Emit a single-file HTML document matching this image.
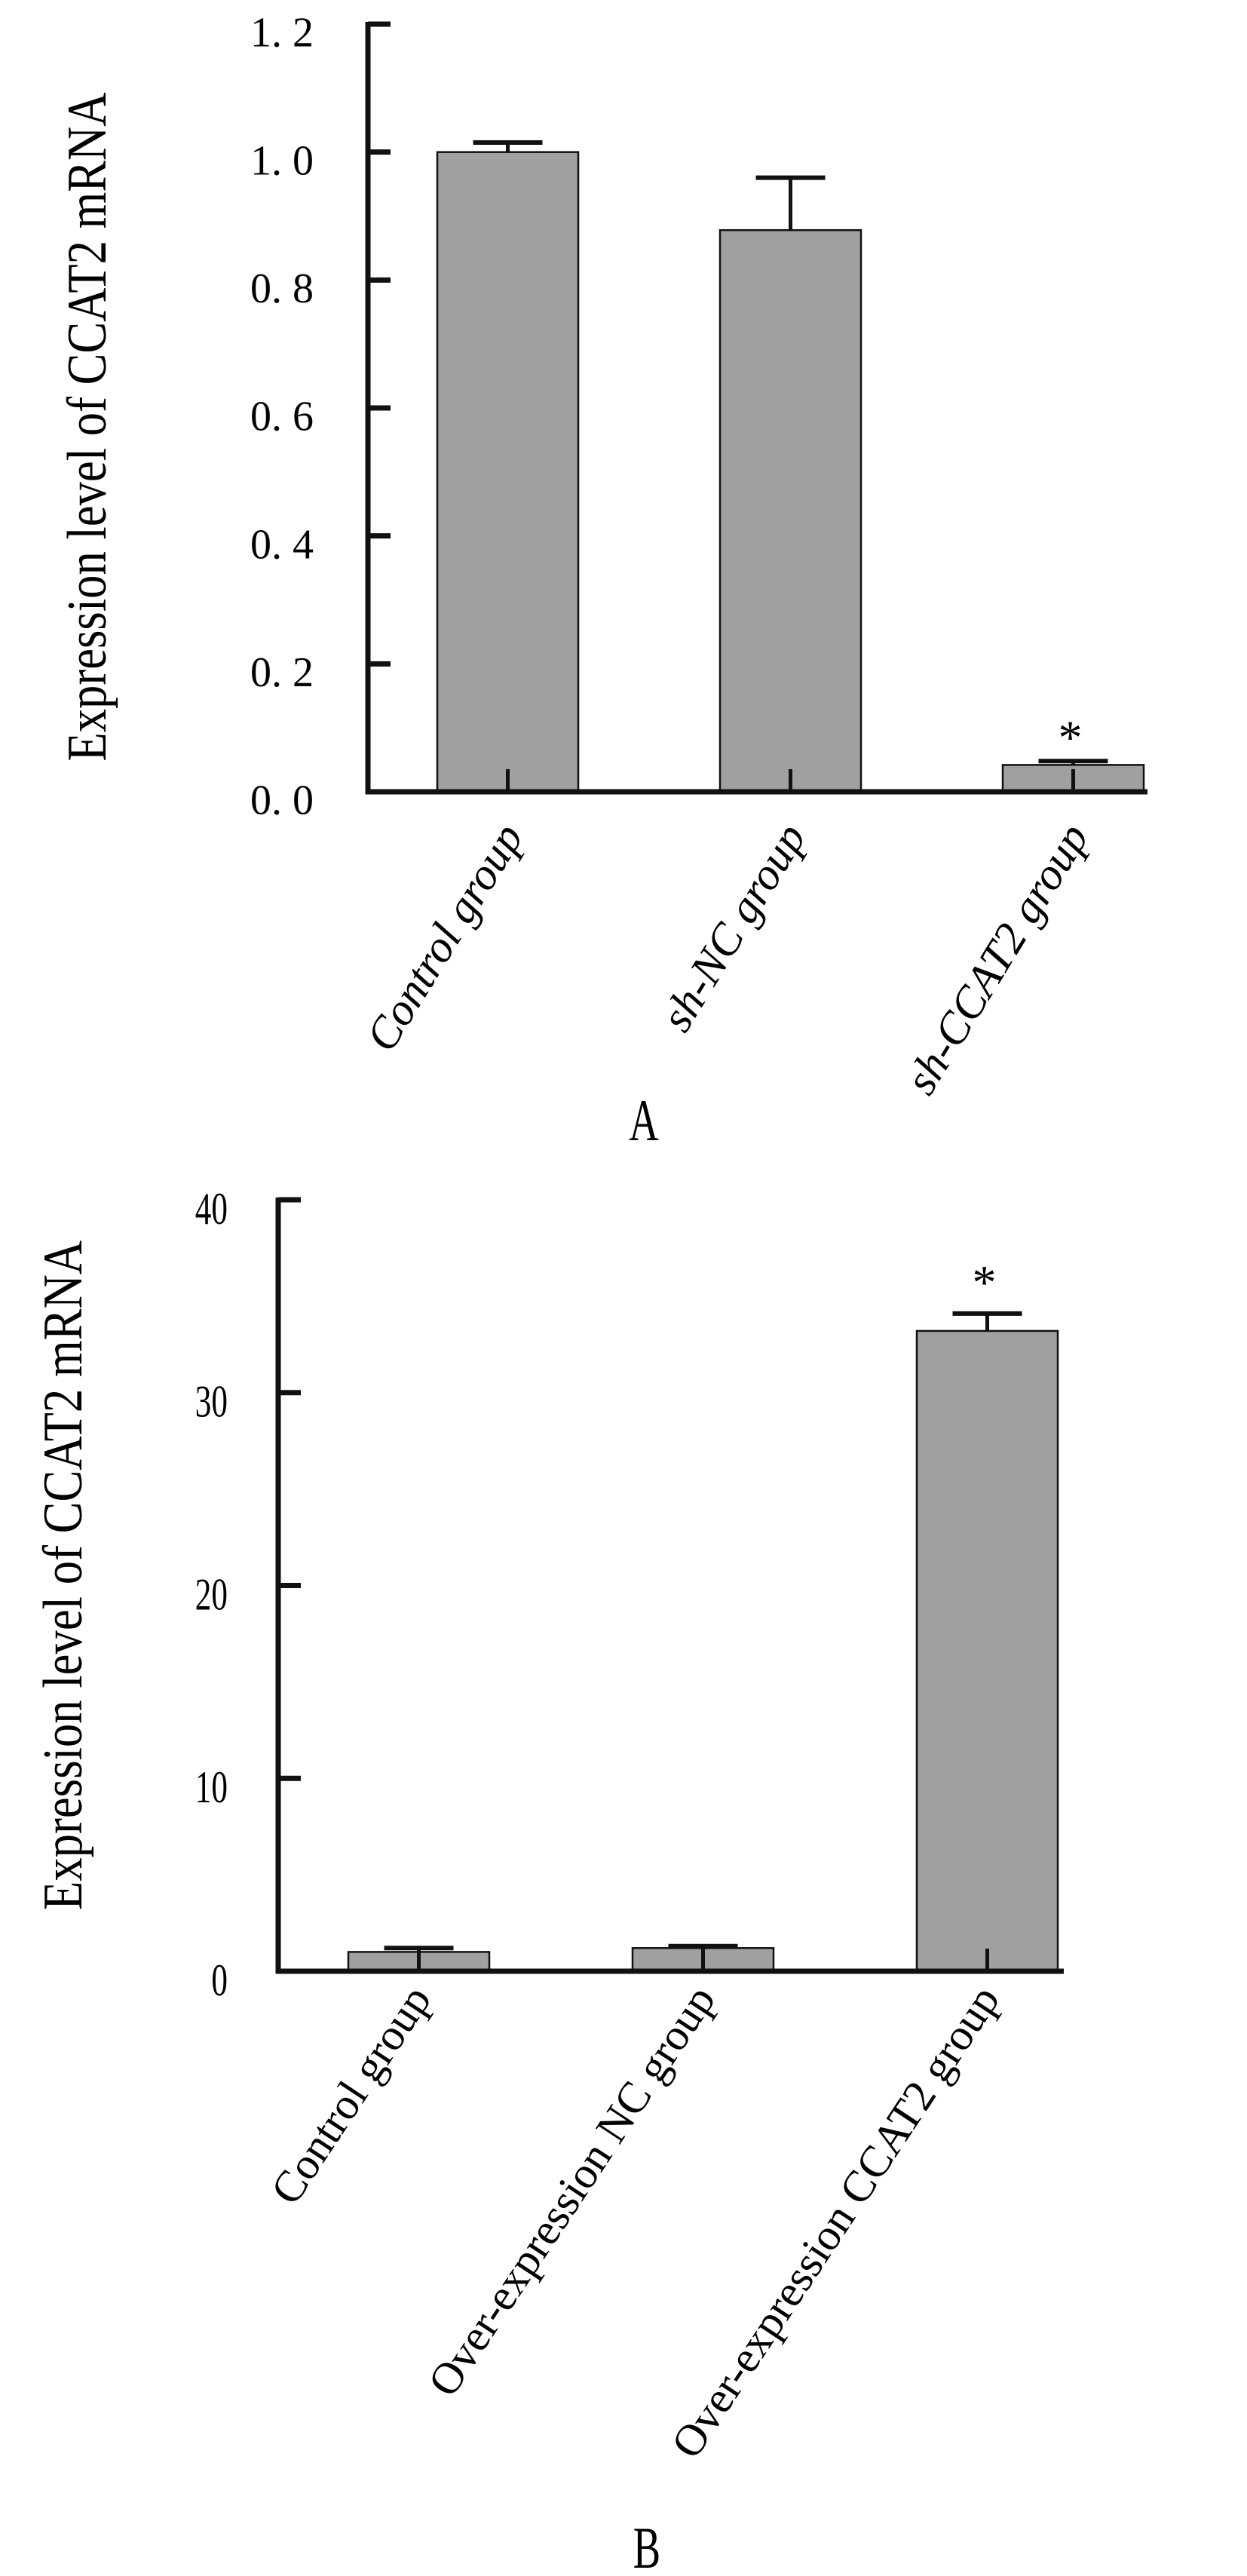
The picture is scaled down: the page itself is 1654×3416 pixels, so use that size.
<!DOCTYPE html>
<html><head><meta charset="utf-8"><style>
html,body{margin:0;padding:0;background:#fff;}
svg{display:block;}
text{font-family:"Liberation Serif",serif;fill:#000;}
</style></head><body>
<svg id="fig" width="1654" height="3416" viewBox="0 0 1654 3416">
<g id="chartA"></g>
<g id="chartB"></g>
</svg>
<script>
const catsA = ["Control group","sh-NC group","sh-CCAT2 group"];
const valsA = [1.0, 0.878, 0.042];
const errsA = [0.015, 0.082, 0.006];
const sigA = [false, false, true];
const ticksA = [0, 0.2, 0.4, 0.6, 0.8, 1.0, 1.2];
const tickLabelsA = ["0. 0","0. 2","0. 4","0. 6","0. 8","1. 0","1. 2"];

const catsB = ["Control group","Over-expression NC group","Over-expression CCAT2 group"];
const valsB = [1.0, 1.2, 33.2];
const errsB = [0.2, 0.1, 0.9];
const sigB = [false, false, true];
const ticksB = [0, 10, 20, 30, 40];
const tickLabelsB = ["0","10","20","30","40"];

const NS = "http://www.w3.org/2000/svg";
function mk(parent, tag, attrs, txt){
  const e = document.createElementNS(NS, tag);
  for (const k in attrs) e.setAttribute(k, attrs[k]);
  if (txt !== undefined) e.textContent = txt;
  parent.appendChild(e);
  return e;
}

function drawChart(g, cfg){
  const y = v => cfg.y0 - (v - 0) / (cfg.vmax) * (cfg.y0 - cfg.yTop);
  const xc = i => cfg.barX0 + i * cfg.step + cfg.barW / 2;
  cfg.vals.forEach((v, i) => {
    const r = mk(g, "rect", {x: xc(i) - cfg.barW/2, y: y(v), width: cfg.barW, height: cfg.y0 - y(v), fill: "#a0a0a0", stroke: "#111", "stroke-width": 2.5});
    
    
    const top = y(v + cfg.errs[i]);
    const l = mk(g, "line", {x1: xc(i), x2: xc(i), y1: y(v), y2: top, stroke: "#111", "stroke-width": 5});
    
    
    const c = mk(g, "line", {x1: xc(i) - 46, x2: xc(i) + 46, y1: top, y2: top, stroke: "#111", "stroke-width": 6});
    
    
    const t = mk(g, "line", {x1: xc(i), x2: xc(i), y1: cfg.y0, y2: cfg.y0 - 30, stroke: "#111", "stroke-width": 5});
    
    
    if (cfg.sig[i]) {
      const s = mk(g, "text", {x: xc(i) - 4, y: top - cfg.starGap, "font-size": 64, "text-anchor": "middle"}, "*");
      
      
    }
    const lab = mk(g, "text", {x: 0, y: 0, "font-size": cfg.labSize, "text-anchor": "end", "font-style": cfg.italic ? "italic" : "normal",
      transform: "translate(" + (xc(i) + cfg.labDx) + "," + cfg.labY + ") rotate(" + cfg.labRot + ")"}, cfg.cats[i]);
    
    
  });
  const ya = mk(g, "line", {x1: cfg.ax, x2: cfg.ax, y1: cfg.yTop - 3, y2: cfg.y0 + 3, stroke: "#111", "stroke-width": 7});
  
  
  const xa = mk(g, "line", {x1: cfg.ax - 3, x2: cfg.axEnd, y1: cfg.y0, y2: cfg.y0, stroke: "#111", "stroke-width": 7});
  
  
  cfg.ticks.forEach((tv, i) => {
    const t = mk(g, "line", {x1: cfg.ax, x2: cfg.ax + 30, y1: y(tv), y2: y(tv), stroke: "#111", "stroke-width": 7});
    
    
    const tl = mk(g, "text", {x: 0, y: 0, "font-size": cfg.tickSize, "text-anchor": "end",
      transform: "translate(" + cfg.tickRight + "," + (y(tv) + cfg.tickSize*0.53) + ") scale(" + cfg.tickSx + ",1)"}, cfg.tickLabels[i]);
    
    
  });
  const tt = mk(g, "text", {x: 0, y: 0, "font-size": 74, "text-anchor": "middle", textLength: cfg.titleLen, lengthAdjust: "spacingAndGlyphs",
    transform: "translate(" + cfg.titleX + "," + cfg.titleY + ") rotate(-90)"}, "Expression level of CCAT2 mRNA");
  
  
  const pl = mk(g, "text", {x: 0, y: 0, "font-size": 78, "text-anchor": "middle", transform: "translate(" + cfg.panelX + "," + cfg.panelY + ") scale(0.7,1)"}, cfg.panel);
  
  
}

drawChart(document.getElementById("chartA"), {
  cats: catsA, vals: valsA, errs: errsA, sig: sigA, ticks: ticksA, tickLabels: tickLabelsA,
  vmax: 1.2, y0: 1050, yTop: 32, ax: 488, axEnd: 1522, barX0: 580, barW: 187, step: 375,
  starGap: 10, labSize: 60, italic: true, labDx: 22, labY: 1108, labRot: -58.5,
  tickRight: 416, tickSize: 56, tickSx: 1, titleX: 140, titleY: 566, titleLen: 887,
  panel: "A", panelX: 854, panelY: 1512
});
drawChart(document.getElementById("chartB"), {
  cats: catsB, vals: valsB, errs: errsB, sig: sigB, ticks: ticksB, tickLabels: tickLabelsB,
  vmax: 40, y0: 2614, yTop: 1591, ax: 369, axEnd: 1411, barX0: 462, barW: 187, step: 377,
  starGap: 20, labSize: 59, italic: false, labDx: 18, labY: 2650, labRot: -56.5,
  tickRight: 302, tickSize: 60, tickSx: 0.72, titleX: 108, titleY: 2089, titleLen: 888,
  panel: "B", panelX: 858, panelY: 3405
});
</script>
</body></html>
